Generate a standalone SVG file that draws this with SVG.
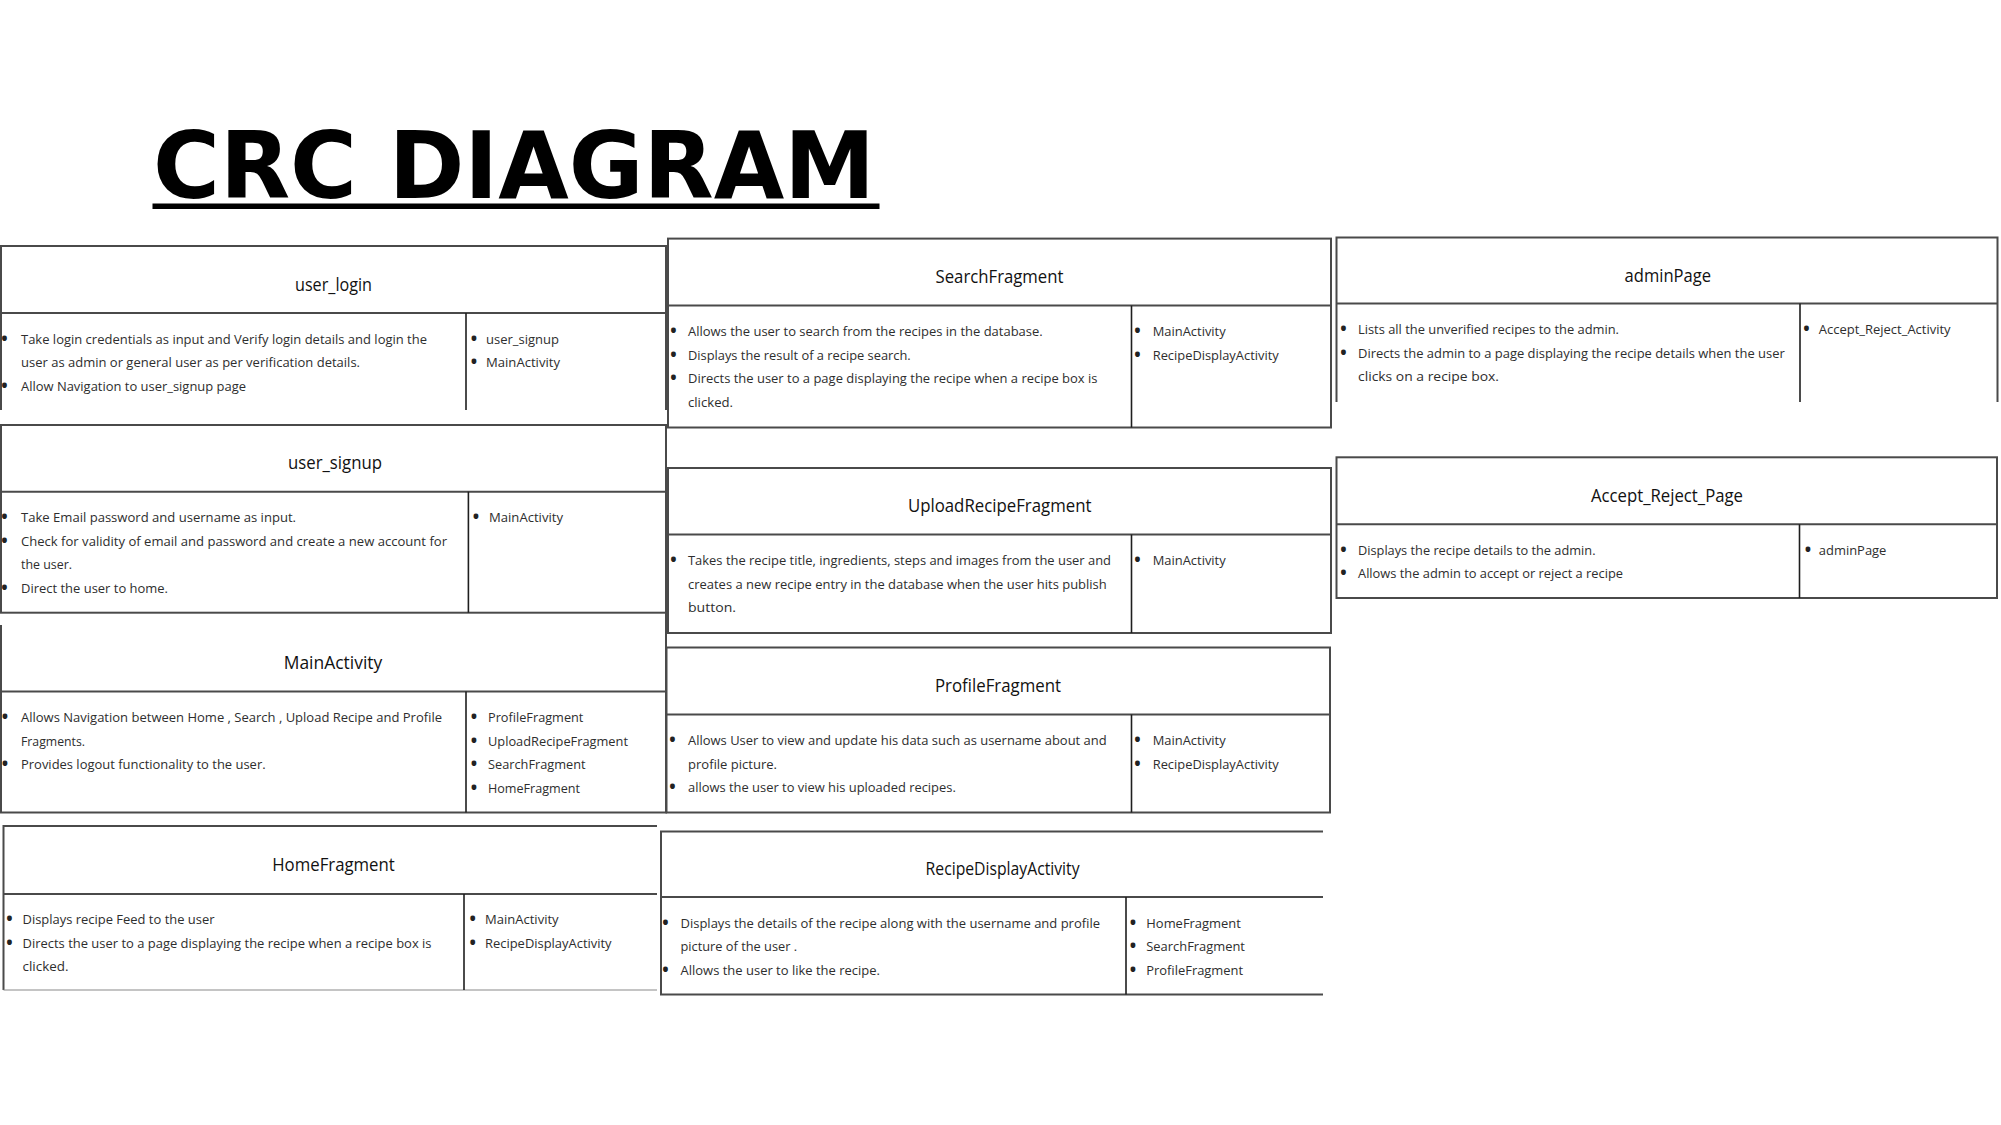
<svg xmlns="http://www.w3.org/2000/svg" width="2001" height="1125" viewBox="0 0 2001 1125">
<style>
.bg{fill:#ffffff}
.b{fill:none;stroke:#4a4a4a;stroke-width:2}
.thin{fill:none;stroke:#8a8a8a;stroke-width:1.2}
.d{stroke:#1e1e1e;stroke-width:1.6}
.h{font-family:"Open Sans","Liberation Sans",sans-serif;font-size:17.5px;fill:#111;text-anchor:middle}
.x{font-family:"Open Sans","Liberation Sans",sans-serif;font-size:13.5px;fill:#2e2e2e}
.bu{font-family:"Open Sans","Liberation Sans",sans-serif;font-size:17px;font-weight:bold;fill:#222;text-anchor:middle}
.title{font-family:"DejaVu Sans",sans-serif;font-weight:bold;font-size:93px;fill:#000}
</style>
<rect class="bg" x="0" y="0" width="2001" height="1125"/>
<g id="title">
<text class="title" x="153" y="198" textLength="722" lengthAdjust="spacingAndGlyphs">CRC DIAGRAM</text>
<rect x="152.5" y="203.5" width="727" height="5.5" fill="#000"/>
</g>
<g id="connectors"></g>

<g id="user_login">
<path class="b" d="M1 410 V246 H666 V410 M1 313 H666"/>
<line class="d" x1="466" y1="313" x2="466" y2="410"/>
<text class="h" x="333.5" y="290.5" textLength="77" lengthAdjust="spacingAndGlyphs">user_login</text>
<text class="bu" x="4.5" y="344.5">•</text>
<text class="x" x="21" y="343.5" textLength="406" lengthAdjust="spacingAndGlyphs">Take login credentials as input and Verify login details and login the</text>
<text class="x" x="21" y="367" textLength="339" lengthAdjust="spacingAndGlyphs">user as admin or general user as per verification details.</text>
<text class="bu" x="4.5" y="391.5">•</text>
<text class="x" x="21" y="390.5" textLength="225" lengthAdjust="spacingAndGlyphs">Allow Navigation to user_signup page</text>
<text class="bu" x="474" y="344.5">•</text>
<text class="x" x="486" y="343.5" textLength="73" lengthAdjust="spacingAndGlyphs">user_signup</text>
<text class="bu" x="474" y="368">•</text>
<text class="x" x="486" y="367" textLength="74" lengthAdjust="spacingAndGlyphs">MainActivity</text>
</g>

<g id="user_signup">
<rect class="b" x="1" y="425" width="665" height="187.7"/>
<line class="b" x1="1" y1="491.7" x2="666" y2="491.7"/>
<line class="d" x1="468.4" y1="491.7" x2="468.4" y2="612.7"/>
<text class="h" x="335" y="469.3" textLength="94" lengthAdjust="spacingAndGlyphs">user_signup</text>
<text class="bu" x="4.5" y="523">•</text>
<text class="x" x="21" y="522" textLength="275" lengthAdjust="spacingAndGlyphs">Take Email password and username as input.</text>
<text class="bu" x="4.5" y="546.5">•</text>
<text class="x" x="21" y="545.5" textLength="426" lengthAdjust="spacingAndGlyphs">Check for validity of email and password and create a new account for</text>
<text class="x" x="21" y="569" textLength="51" lengthAdjust="spacingAndGlyphs">the user.</text>
<text class="bu" x="4.5" y="593.5">•</text>
<text class="x" x="21" y="592.5" textLength="147" lengthAdjust="spacingAndGlyphs">Direct the user to home.</text>
<text class="bu" x="476" y="523">•</text>
<text class="x" x="489" y="522" textLength="74" lengthAdjust="spacingAndGlyphs">MainActivity</text>
</g>

<g id="MainActivity">
<path class="b" d="M1 625 V812.5 H666 V613"/>
<line class="b" x1="1" y1="691.5" x2="666" y2="691.5"/>
<line class="d" x1="466" y1="691.5" x2="466" y2="812.5"/>
<text class="h" x="333" y="669" textLength="98.5" lengthAdjust="spacingAndGlyphs">MainActivity</text>
<text class="bu" x="5" y="723">•</text>
<text class="x" x="21" y="722" textLength="421" lengthAdjust="spacingAndGlyphs">Allows Navigation between Home , Search , Upload Recipe and Profile</text>
<text class="x" x="21" y="745.5" textLength="64" lengthAdjust="spacingAndGlyphs">Fragments.</text>
<text class="bu" x="5" y="770">•</text>
<text class="x" x="21" y="769" textLength="244.6" lengthAdjust="spacingAndGlyphs">Provides logout functionality to the user.</text>
<text class="bu" x="474" y="723">•</text>
<text class="x" x="488" y="722" textLength="95.4" lengthAdjust="spacingAndGlyphs">ProfileFragment</text>
<text class="bu" x="474" y="746.5">•</text>
<text class="x" x="488" y="745.5" textLength="140" lengthAdjust="spacingAndGlyphs">UploadRecipeFragment</text>
<text class="bu" x="474" y="770">•</text>
<text class="x" x="488" y="769" textLength="97.6" lengthAdjust="spacingAndGlyphs">SearchFragment</text>
<text class="bu" x="474" y="793.5">•</text>
<text class="x" x="488" y="792.5" textLength="92" lengthAdjust="spacingAndGlyphs">HomeFragment</text>
</g>

<g id="HomeFragment">
<path class="b" d="M657 826 H3.5 V990 M3.5 894 H657"/>
<line class="thin" x1="3.5" y1="990" x2="657" y2="990"/>
<line class="d" x1="464" y1="894" x2="464" y2="990"/>
<text class="h" x="333.5" y="871" textLength="122.5" lengthAdjust="spacingAndGlyphs">HomeFragment</text>
<text class="bu" x="9.5" y="925">•</text>
<text class="x" x="22.5" y="924" textLength="192" lengthAdjust="spacingAndGlyphs">Displays recipe Feed to the user</text>
<text class="bu" x="9.5" y="948.5">•</text>
<text class="x" x="22.5" y="947.5" textLength="409" lengthAdjust="spacingAndGlyphs">Directs the user to a page displaying the recipe when a recipe box is</text>
<text class="x" x="22.5" y="971" textLength="46" lengthAdjust="spacingAndGlyphs">clicked.</text>
<text class="bu" x="472.7" y="925">•</text>
<text class="x" x="485" y="924" textLength="73.6" lengthAdjust="spacingAndGlyphs">MainActivity</text>
<text class="bu" x="472.7" y="948.5">•</text>
<text class="x" x="485" y="947.5" textLength="126.6" lengthAdjust="spacingAndGlyphs">RecipeDisplayActivity</text>
</g>

<g id="SearchFragment">
<rect class="b" x="668" y="238.6" width="663" height="188.9"/>
<line class="b" x1="668" y1="305.5" x2="1331" y2="305.5"/>
<line class="d" x1="1131.5" y1="305.5" x2="1131.5" y2="427.5"/>
<text class="h" x="999.5" y="283" textLength="128" lengthAdjust="spacingAndGlyphs">SearchFragment</text>
<text class="bu" x="673.5" y="337">•</text>
<text class="x" x="688" y="336" textLength="354.7" lengthAdjust="spacingAndGlyphs">Allows the user to search from the recipes in the database.</text>
<text class="bu" x="673.5" y="360.5">•</text>
<text class="x" x="688" y="359.5" textLength="222.7" lengthAdjust="spacingAndGlyphs">Displays the result of a recipe search.</text>
<text class="bu" x="673.5" y="384">•</text>
<text class="x" x="688" y="383" textLength="409.5" lengthAdjust="spacingAndGlyphs">Directs the user to a page displaying the recipe when a recipe box is</text>
<text class="x" x="688" y="406.5" textLength="45" lengthAdjust="spacingAndGlyphs">clicked.</text>
<text class="bu" x="1137.5" y="337">•</text>
<text class="x" x="1152.7" y="336" textLength="73" lengthAdjust="spacingAndGlyphs">MainActivity</text>
<text class="bu" x="1137.5" y="360.5">•</text>
<text class="x" x="1152.7" y="359.5" textLength="126" lengthAdjust="spacingAndGlyphs">RecipeDisplayActivity</text>
</g>

<g id="UploadRecipeFragment">
<rect class="b" x="668" y="468" width="663" height="165"/>
<line class="b" x1="668" y1="534.5" x2="1331" y2="534.5"/>
<line class="d" x1="1131.5" y1="534.5" x2="1131.5" y2="633"/>
<text class="h" x="999.7" y="512.3" textLength="183.6" lengthAdjust="spacingAndGlyphs">UploadRecipeFragment</text>
<text class="bu" x="673.5" y="566">•</text>
<text class="x" x="688" y="565" textLength="423" lengthAdjust="spacingAndGlyphs">Takes the recipe title, ingredients, steps and images from the user and</text>
<text class="x" x="688" y="588.5" textLength="418.7" lengthAdjust="spacingAndGlyphs">creates a new recipe entry in the database when the user hits publish</text>
<text class="x" x="688" y="612" textLength="48" lengthAdjust="spacingAndGlyphs">button.</text>
<text class="bu" x="1137.5" y="566">•</text>
<text class="x" x="1152.7" y="565" textLength="73" lengthAdjust="spacingAndGlyphs">MainActivity</text>
</g>

<g id="ProfileFragment">
<rect class="b" x="666.5" y="647.5" width="663.5" height="165"/>
<line class="b" x1="666.5" y1="714.5" x2="1330" y2="714.5"/>
<line class="d" x1="1131.5" y1="714.5" x2="1131.5" y2="812.5"/>
<text class="h" x="998" y="692" textLength="126" lengthAdjust="spacingAndGlyphs">ProfileFragment</text>
<text class="bu" x="672.5" y="746">•</text>
<text class="x" x="688" y="745" textLength="418.7" lengthAdjust="spacingAndGlyphs">Allows User to view and update his data such as username about and</text>
<text class="x" x="688" y="768.5" textLength="89" lengthAdjust="spacingAndGlyphs">profile picture.</text>
<text class="bu" x="672.5" y="793">•</text>
<text class="x" x="688" y="792" textLength="267.8" lengthAdjust="spacingAndGlyphs">allows the user to view his uploaded recipes.</text>
<text class="bu" x="1137.5" y="746">•</text>
<text class="x" x="1152.7" y="745" textLength="73" lengthAdjust="spacingAndGlyphs">MainActivity</text>
<text class="bu" x="1137.5" y="769.5">•</text>
<text class="x" x="1152.7" y="768.5" textLength="126" lengthAdjust="spacingAndGlyphs">RecipeDisplayActivity</text>
</g>

<g id="RecipeDisplayActivity">
<path class="b" d="M1323 831.5 H661 V994.5 H1323 M661 897 H1323"/>
<line class="d" x1="1126" y1="897" x2="1126" y2="994.5"/>
<text class="h" x="1002.6" y="875.3" textLength="154" lengthAdjust="spacingAndGlyphs">RecipeDisplayActivity</text>
<text class="bu" x="665.5" y="928.5">•</text>
<text class="x" x="680.5" y="927.5" textLength="419.5" lengthAdjust="spacingAndGlyphs">Displays the details of the recipe along with the username and profile</text>
<text class="x" x="680.5" y="951" textLength="116.6" lengthAdjust="spacingAndGlyphs">picture of the user .</text>
<text class="bu" x="665.5" y="975.5">•</text>
<text class="x" x="680.5" y="974.5" textLength="199.5" lengthAdjust="spacingAndGlyphs">Allows the user to like the recipe.</text>
<text class="bu" x="1133" y="928.5">•</text>
<text class="x" x="1146.3" y="927.5" textLength="94.6" lengthAdjust="spacingAndGlyphs">HomeFragment</text>
<text class="bu" x="1133" y="952">•</text>
<text class="x" x="1146.3" y="951" textLength="98.6" lengthAdjust="spacingAndGlyphs">SearchFragment</text>
<text class="bu" x="1133" y="975.5">•</text>
<text class="x" x="1146.3" y="974.5" textLength="96.8" lengthAdjust="spacingAndGlyphs">ProfileFragment</text>
</g>

<g id="adminPage">
<path class="b" d="M1336.5 402 V237.5 H1997.5 V402 M1336.5 303.5 H1997.5"/>
<line class="d" x1="1800" y1="303.5" x2="1800" y2="402"/>
<text class="h" x="1667.8" y="281.5" textLength="86.5" lengthAdjust="spacingAndGlyphs">adminPage</text>
<text class="bu" x="1343.5" y="335">•</text>
<text class="x" x="1358" y="334" textLength="261" lengthAdjust="spacingAndGlyphs">Lists all the unverified recipes to the admin.</text>
<text class="bu" x="1343.5" y="358.5">•</text>
<text class="x" x="1358" y="357.5" textLength="426.7" lengthAdjust="spacingAndGlyphs">Directs the admin to a page displaying the recipe details when the user</text>
<text class="x" x="1358" y="381" textLength="141" lengthAdjust="spacingAndGlyphs">clicks on a recipe box.</text>
<text class="bu" x="1806.5" y="335">•</text>
<text class="x" x="1818.8" y="334" textLength="131.8" lengthAdjust="spacingAndGlyphs">Accept_Reject_Activity</text>
</g>

<g id="Accept_Reject_Page">
<rect class="b" x="1336.5" y="457.3" width="660.5" height="140.7"/>
<line class="b" x1="1336.5" y1="524.3" x2="1997" y2="524.3"/>
<line class="d" x1="1799.5" y1="524.3" x2="1799.5" y2="598"/>
<text class="h" x="1667" y="501.8" textLength="152" lengthAdjust="spacingAndGlyphs">Accept_Reject_Page</text>
<text class="bu" x="1343.5" y="555.5">•</text>
<text class="x" x="1358" y="554.5" textLength="237.5" lengthAdjust="spacingAndGlyphs">Displays the recipe details to the admin.</text>
<text class="bu" x="1343.5" y="579">•</text>
<text class="x" x="1358" y="578" textLength="265" lengthAdjust="spacingAndGlyphs">Allows the admin to accept or reject a recipe</text>
<text class="bu" x="1808" y="555.5">•</text>
<text class="x" x="1818.8" y="554.5" textLength="67.6" lengthAdjust="spacingAndGlyphs">adminPage</text>
</g>
</svg>
